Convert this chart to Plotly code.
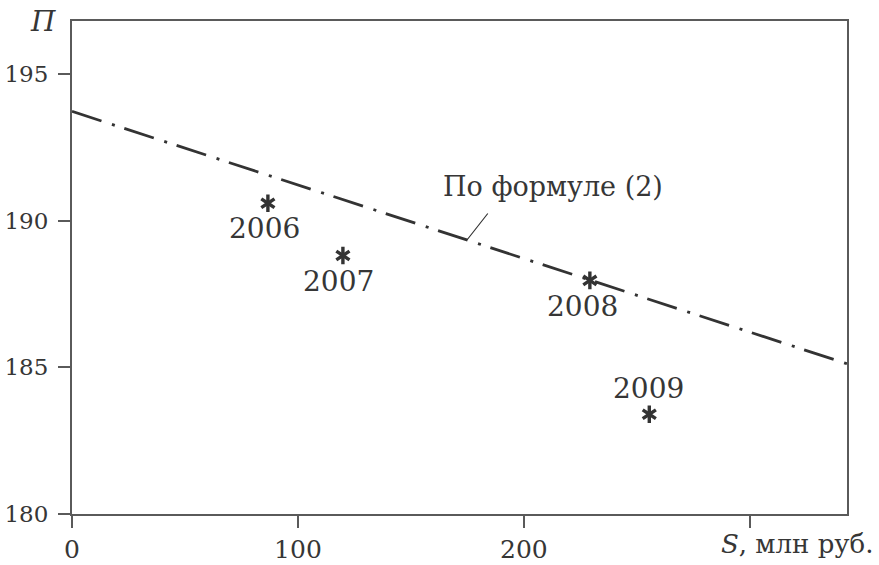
import numpy as np
import plotly.graph_objects as go

# Data
years = ["2006", "2007", "2008", "2009"]
s_vals = [86.7, 119.9, 229.2, 255.5]
p_vals = [190.59, 188.81, 187.96, 183.40]

line_s = [0, 343]
line_p = [193.72, 185.12]
line_label = "По формуле (2)"

x_tickvals = [0, 100, 200, 300]
x_ticktext = ["0", "100", "200", ""]
y_tickvals = [180, 185, 190, 195]

FONT = "DejaVu Serif"
TXT = "#363636"
AX = "#5a5a5a"
MK = "#333333"

fig = go.Figure()

fig.add_trace(go.Scatter(
    x=line_s, y=line_p, mode="lines",
    line=dict(color=MK, width=2.8, dash="31px,11px,3px,10px"),
    hoverinfo="skip", showlegend=False))

for sym in ["y-up-open", "y-down-open"]:
    fig.add_trace(go.Scatter(
        x=s_vals, y=p_vals, mode="markers",
        marker=dict(symbol=sym, size=11, color=MK,
                    line=dict(color=MK, width=3.4)),
        showlegend=False))

# year labels
label_shifts = [(-3, -25), (-4, -26), (-7, -26), (-1, 26)]
for yr, sx, py, (dx, dy) in zip(years, s_vals, p_vals, label_shifts):
    fig.add_annotation(x=sx, y=py, text=yr, showarrow=False,
                       xshift=dx, yshift=dy,
                       font=dict(family=FONT, size=28, color=TXT))

# formula label and leader line
lead_x = 174.8
lead_y = float(np.interp(lead_x, line_s, line_p))
fig.add_annotation(x=lead_x, y=lead_y, text="", showarrow=True,
                   arrowhead=0, arrowwidth=1.2, arrowcolor=MK,
                   ax=22, ay=-28, standoff=0)
fig.add_annotation(x=212.9, y=191.16, text=line_label, showarrow=False,
                   font=dict(family=FONT, size=27, color=TXT))

# axis titles
fig.add_annotation(xref="paper", yref="paper", x=0, y=1, xshift=-44, yshift=18,
                   text="<i>П</i>", showarrow=False,
                   font=dict(family=FONT, size=28, color=TXT))
fig.add_annotation(xref="paper", yref="paper", x=1, y=0, xanchor="right",
                   yanchor="middle", xshift=29, yshift=-30,
                   text="<i>S</i>, млн руб.", showarrow=False,
                   font=dict(family=FONT, size=26, color=TXT))

fig.update_xaxes(range=[0, 343], tickvals=x_tickvals, ticktext=x_ticktext,
                 showgrid=False, zeroline=False, showline=True, linecolor=AX,
                 linewidth=2, mirror=True, ticks="outside", ticklen=12,
                 tickwidth=2, tickcolor=AX, automargin=False,
                 tickfont=dict(family=FONT, size=25, color=TXT))
fig.update_yaxes(range=[180, 196.8], tickvals=y_tickvals,
                 showgrid=False, zeroline=False, showline=True, linecolor=AX,
                 linewidth=2, mirror=True, ticks="outside", ticklen=12,
                 tickwidth=2, tickcolor=AX, automargin=False,
                 ticklabelstandoff=5,
                 tickfont=dict(family=FONT, size=23, color=TXT))

fig.update_layout(width=879, height=565,
                  margin=dict(l=72, r=32, t=21, b=51, autoexpand=False),
                  font=dict(family=FONT, color=TXT),
                  paper_bgcolor="white", plot_bgcolor="white")

fig.write_html("out.html")
